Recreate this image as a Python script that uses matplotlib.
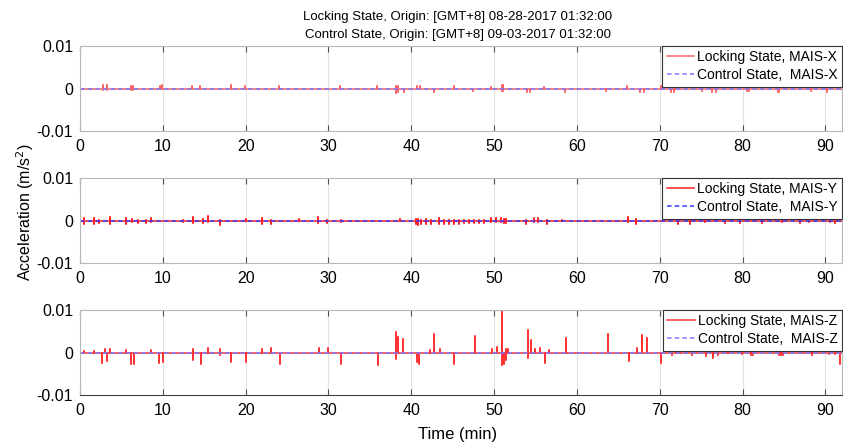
import numpy as np
import matplotlib
matplotlib.use("Agg")
import matplotlib.pyplot as plt

plt.rcParams['font.family'] = ['Liberation Sans', 'DejaVu Sans']

# Spike events of the locking state record: time (min), positive peak, negative peak (m/s^2)
x_time = [2.8, 3.3, 6.1, 6.4, 9.6, 9.9, 13.5, 14.5, 18.2, 19.9, 24.0, 31.4, 35.8, 38.2, 38.4,
          39.1, 40.7, 41.0, 42.7, 45.1, 47.5, 49.6, 51.0, 51.1, 54.0, 54.3, 56.0, 58.6, 63.5,
          66.1, 67.6, 68.1, 70.2, 71.4, 71.7, 72.0, 75.1, 76.3, 76.8, 80.5, 80.8, 84.3, 84.4,
          88.3, 90.2, 91.5]
x_high = [0.0008, 0.0008, 0.0007, 0.0007, 0.0006, 0.0008, 0.0006, 0.0006, 0.0008, 0.0007,
          0.0007, 0.0005, 0.0007, 0.0005, 0.0006, 0.0, 0.0007, 0.0005, 0.0, 0.0005, 0.0, 0.0003,
          0.0009, 0.0009, 0.0, 0.0, 0.0004, 0.0, 0.0, 0.0007, 0.0, 0.0, 0.0006, 0.0, 0.0004,
          0.0003, 0.0, 0.0, 0.0, 0.0, 0.0003, 0.0003, 0.0003, 0.0, 0.0, 0.0009]
x_low = [-0.0003, -0.0003, -0.0003, -0.0003, 0.0, -0.0002, 0.0, 0.0, 0.0, 0.0, 0.0, 0.0, 0.0,
         -0.0011, -0.0009, -0.0008, 0.0, 0.0, -0.0008, 0.0, -0.0006, 0.0, -0.0007, -0.0006,
         -0.0008, -0.0008, 0.0, -0.0008, -0.0007, 0.0, -0.0008, -0.0008, 0.0, -0.0008, -0.0008,
         0.0, -0.0007, -0.0008, -0.0008, -0.0006, -0.0006, -0.0008, -0.0008, -0.0007, -0.0008, 0.0]

y_time = [0.5, 1.7, 2.3, 3.6, 5.5, 6.3, 7.0, 8.0, 8.6, 12.4, 13.7, 14.9, 15.4, 16.9, 20.1, 22.0,
          23.1, 26.4, 28.7, 29.8, 31.5, 38.6, 40.6, 40.8, 41.2, 41.8, 42.4, 43.4, 44.0, 44.6,
          45.2, 45.8, 46.4, 47.0, 47.6, 48.2, 48.8, 49.6, 50.2, 50.8, 51.2, 51.4, 53.8, 54.8,
          55.3, 56.4, 58.2, 66.2, 67.1, 72.2, 73.6, 75.4, 77.9, 79.7, 82.3, 84.7, 86.9, 88.0,
          90.6, 91.2]
y_high = [0.0005, 0.0007, 0.0002, 0.0008, 0.0007, 0.0003, 0.0002, 0.0002, 0.0005, 0.0002,
          0.0008, 0.0004, 0.0010, 0.0001, 0.0004, 0.0006, 0.0002, 0.0003, 0.0008, 0.0002,
          0.0001, 0.0004, 0.0003, 0.0003, 0.0002, 0.0003, 0.0002, 0.0007, 0.0001, 0.0001,
          0.0001, 0.0001, 0.0001, 0.0001, 0.0001, 0.0001, 0.0002, 0.0006, 0.0007, 0.0006,
          0.0004, 0.0003, 0.0002, 0.0006, 0.0007, 0.0002, 0.0002, 0.0008, 0.0003, 0.0006,
          0.0003, 0.0006, 0.0003, 0.0006, 0.0003, 0.0005, 0.0006, 0.0005, 0.0006, 0.0005]
y_low = [-0.0008, -0.0008, -0.0005, -0.0008, -0.0008, -0.0003, -0.0006, -0.0006, -0.0004,
         -0.0004, -0.0006, -0.0007, -0.0003, -0.0011, -0.0002, -0.0008, -0.0008, -0.0002,
         -0.0006, -0.0007, -0.0004, -0.0002, -0.0009, -0.0010, -0.0008, -0.0008, -0.0009,
         -0.0008, -0.0008, -0.0008, -0.0008, -0.0008, -0.0007, -0.0007, -0.0007, -0.0007,
         -0.0007, -0.0003, -0.0003, -0.0004, -0.0007, -0.0006, -0.0008, -0.0003, -0.0003,
         -0.0008, 0.0, -0.0003, -0.0009, -0.0008, -0.0008, -0.0004, -0.0006, -0.0007, -0.0006,
         -0.0004, -0.0007, -0.0004, -0.0004, -0.0006]

z_time = [0.5, 1.7, 2.7, 3.0, 3.3, 3.6, 5.5, 6.2, 6.5, 8.6, 9.5, 10.0, 13.6, 14.6, 15.4, 16.9,
          18.2, 20.0, 22.0, 23.1, 24.1, 28.8, 29.9, 31.5, 36.0, 38.2, 38.4, 39.0, 40.7, 40.9,
          42.2, 42.8, 43.5, 45.2, 47.7, 49.7, 50.4, 51.0, 51.2, 51.4, 51.7, 54.1, 54.4, 54.9,
          55.5, 56.1, 56.6, 58.7, 63.7, 66.3, 67.3, 67.8, 68.4, 70.2, 71.5, 71.9, 72.4, 73.9,
          75.6, 76.4, 77.0, 78.2, 79.9, 81.0, 81.2, 84.4, 84.6, 84.9, 87.2, 88.4, 90.4, 91.2,
          91.8]
z_high = [0.0003, 0.0003, 0.0, 0.0008, 0.0, 0.0009, 0.0005, 0.0, 0.0, 0.0005, 0.0, 0.0,
          0.0009, 0.0, 0.0011, 0.0009, 0.0, 0.0, 0.0009, 0.0010, 0.0, 0.0010, 0.0010, 0.0, 0.0,
          0.0048, 0.0037, 0.0032, 0.0, 0.0, 0.0006, 0.0043, 0.0008, 0.0, 0.0039, 0.0008, 0.0012,
          0.0100, 0.0, 0.0008, 0.0008, 0.0052, 0.0029, 0.0008, 0.0010, 0.0, 0.0006, 0.0035,
          0.0044, 0.0, 0.0010, 0.0041, 0.0033, 0.0, 0.0009, 0.0009, 0.0006, 0.0005, 0.0007, 0.0,
          0.0009, 0.0003, 0.0003, 0.0008, 0.0006, 0.0008, 0.0007, 0.0007, 0.0003, 0.0009, 0.0008,
          0.0003, 0.0]
z_low = [-0.0002, -0.0002, -0.0025, 0.0, -0.0020, 0.0, 0.0, -0.0026, -0.0026, 0.0, -0.0025,
         -0.0022, -0.0018, -0.0026, 0.0, -0.0007, -0.0022, -0.0022, 0.0, 0.0, -0.0026, 0.0, 0.0,
         -0.0028, -0.0029, -0.0016, 0.0, 0.0, -0.0022, -0.0026, 0.0, 0.0, 0.0, -0.0026, 0.0, 0.0,
         0.0, -0.0030, -0.0026, -0.0018, 0.0, -0.0012, 0.0, 0.0, 0.0, -0.0024, 0.0, 0.0, 0.0,
         -0.0020, 0.0, 0.0, 0.0, -0.0024, -0.0006, 0.0, 0.0, -0.0006, -0.0008, -0.0012, -0.0006,
         -0.0002, -0.0003, -0.0006, -0.0006, -0.0006, -0.0006, -0.0005, -0.0002, -0.0006,
         -0.0004, -0.0003, -0.0026]

# Control state stays flat over the whole record
control_time = [0.0, 92.0]
control_acc = [0.0, 0.0]
record_end = 92.0

axis_names = ['X', 'Y', 'Z']
red_colors = ['#ff6464', '#ff2020', '#ff3434']
blue_colors = ['#7878ff', '#3a3aff', '#7878ff']


def traza_bloqueo(tiempos, altos, bajos, fin):
    # Build a single polyline: baseline at zero with vertical excursions at each event
    t = [0.0]
    a = [0.0]
    for ti, hi, lo in zip(tiempos, altos, bajos):
        t += [ti, ti, ti, ti]
        a += [0.0, hi, lo, 0.0]
    t.append(fin)
    a.append(0.0)
    return np.array(t), np.array(a)


fig = plt.figure(figsize=(8.43, 4.44), dpi=100)
left, width, height = 80 / 843, 762 / 843, 85 / 444
bottoms = [313 / 444, 181 / 444, 49 / 444]

datos = [(x_time, x_high, x_low), (y_time, y_high, y_low), (z_time, z_high, z_low)]

for i, (tiempos, altos, bajos) in enumerate(datos):
    ax = fig.add_axes([left, bottoms[i], width, height])
    t, a = traza_bloqueo(tiempos, altos, bajos, record_end)
    ax.plot(t, a, color=red_colors[i], lw=1.1,
            label=f'Locking State, MAIS-{axis_names[i]}')
    ax.plot(control_time, control_acc, color=blue_colors[i], lw=1.1, ls=(0, (3, 2)),
            label=f'Control State,  MAIS-{axis_names[i]}')

    ax.set_xlim(0, 92)
    ax.set_ylim(-0.01, 0.01)
    ax.set_xticks(np.arange(0, 91, 10))
    ax.set_yticks([-0.01, 0, 0.01])
    ax.set_yticklabels(['-0.01', '0', '0.01'])
    ax.grid(axis='x', color='#e2e2e2', lw=0.8)
    ax.set_axisbelow(True)

    for s in ax.spines.values():
        s.set_color('#b8b8b8')
        s.set_linewidth(0.8)
    if i == 2:
        ax.spines['bottom'].set_color('#404040')

    ax.tick_params(axis='x', direction='in', length=4, width=0.8, color='#505050',
                   top=True, labelsize=11.5, pad=6)
    ax.tick_params(axis='y', direction='in', length=3, width=0.8, color='#b8b8b8',
                   right=True, labelsize=11.5, pad=5)

    leg = ax.legend(loc='upper right', fontsize=10, borderaxespad=0, fancybox=False,
                    framealpha=1, edgecolor='#333333', handlelength=2.0,
                    handletextpad=0.2, borderpad=0.3, labelspacing=0.3)
    leg.get_frame().set_linewidth(0.8)

fig.text(0.543, 1 - 17 / 444, 'Locking State, Origin: [GMT+8] 08-28-2017 01:32:00',
         ha='center', va='center', fontsize=9.5)
fig.text(0.543, 1 - 35 / 444, 'Control State, Origin: [GMT+8] 09-03-2017 01:32:00',
         ha='center', va='center', fontsize=9.5)
fig.text(25 / 843, 1 - 212 / 444, 'Acceleration (m/s$^2$)', rotation=90,
         ha='center', va='center', fontsize=11.5)
fig.text(0.543, 1 - 434 / 444, 'Time (min)', ha='center', va='center', fontsize=12)

fig.savefig('out.png', dpi=100)
